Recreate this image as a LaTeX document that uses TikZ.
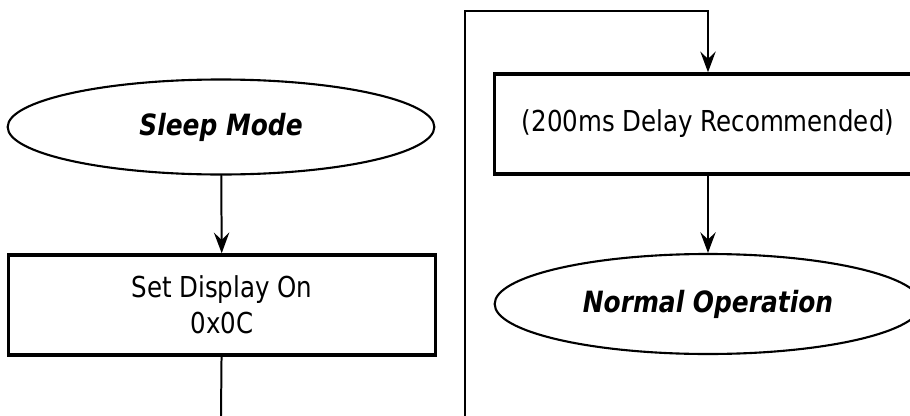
\documentclass[tikz,border=0pt]{standalone}
\usepackage{fontspec}
\setmainfont{DejaVu Sans}[FakeStretch=0.85]
\usetikzlibrary{shapes.geometric}
\usetikzlibrary{arrows.meta}

\begin{document}
\begin{tikzpicture}[x=0.03cm, y=-0.03cm, line cap = round, line join = miter, >={Stealth[length=0.62cm,width=0.46cm,inset=0.22cm]}]
\tikzstyle{state}=[ellipse, draw=black, line width=1.8pt, minimum width=12.8cm, minimum height=2.85cm, inner sep=0pt, font=\fontsize{25}{30.7}\selectfont\bfseries\itshape]
\tikzstyle{stepbox}=[rectangle, draw=black, line width=3pt, minimum width=12.8cm, minimum height=3cm, align=center, font=\fontsize{24.6}{30.7}\selectfont]
\tikzstyle{wire}=[line width=1.7pt, color=black]
\path[use as bounding box, clip] (0,0) rectangle (910,416);
\node[state] (sleep) at (221,127) {Sleep Mode};
\node[stepbox] (display) at (222,305) {Set Display On\\0x0C};
\node[stepbox] (delay) at (708,124) {(200ms Delay Recommended)};
\node[state, minimum height=3cm] (normal) at (708,304) {Normal Operation};
\coordinate (out) at (221,416);
\coordinate (in) at (465,416);
\coordinate (top) at (708,11);

\draw[wire,->] (sleep) -- (display);
\draw[wire] (display) -- (out);
\draw[wire,->] (in) |- (top) -- (delay);
\draw[wire,->] (delay) -- (normal);
\end{tikzpicture}
\end{document}
